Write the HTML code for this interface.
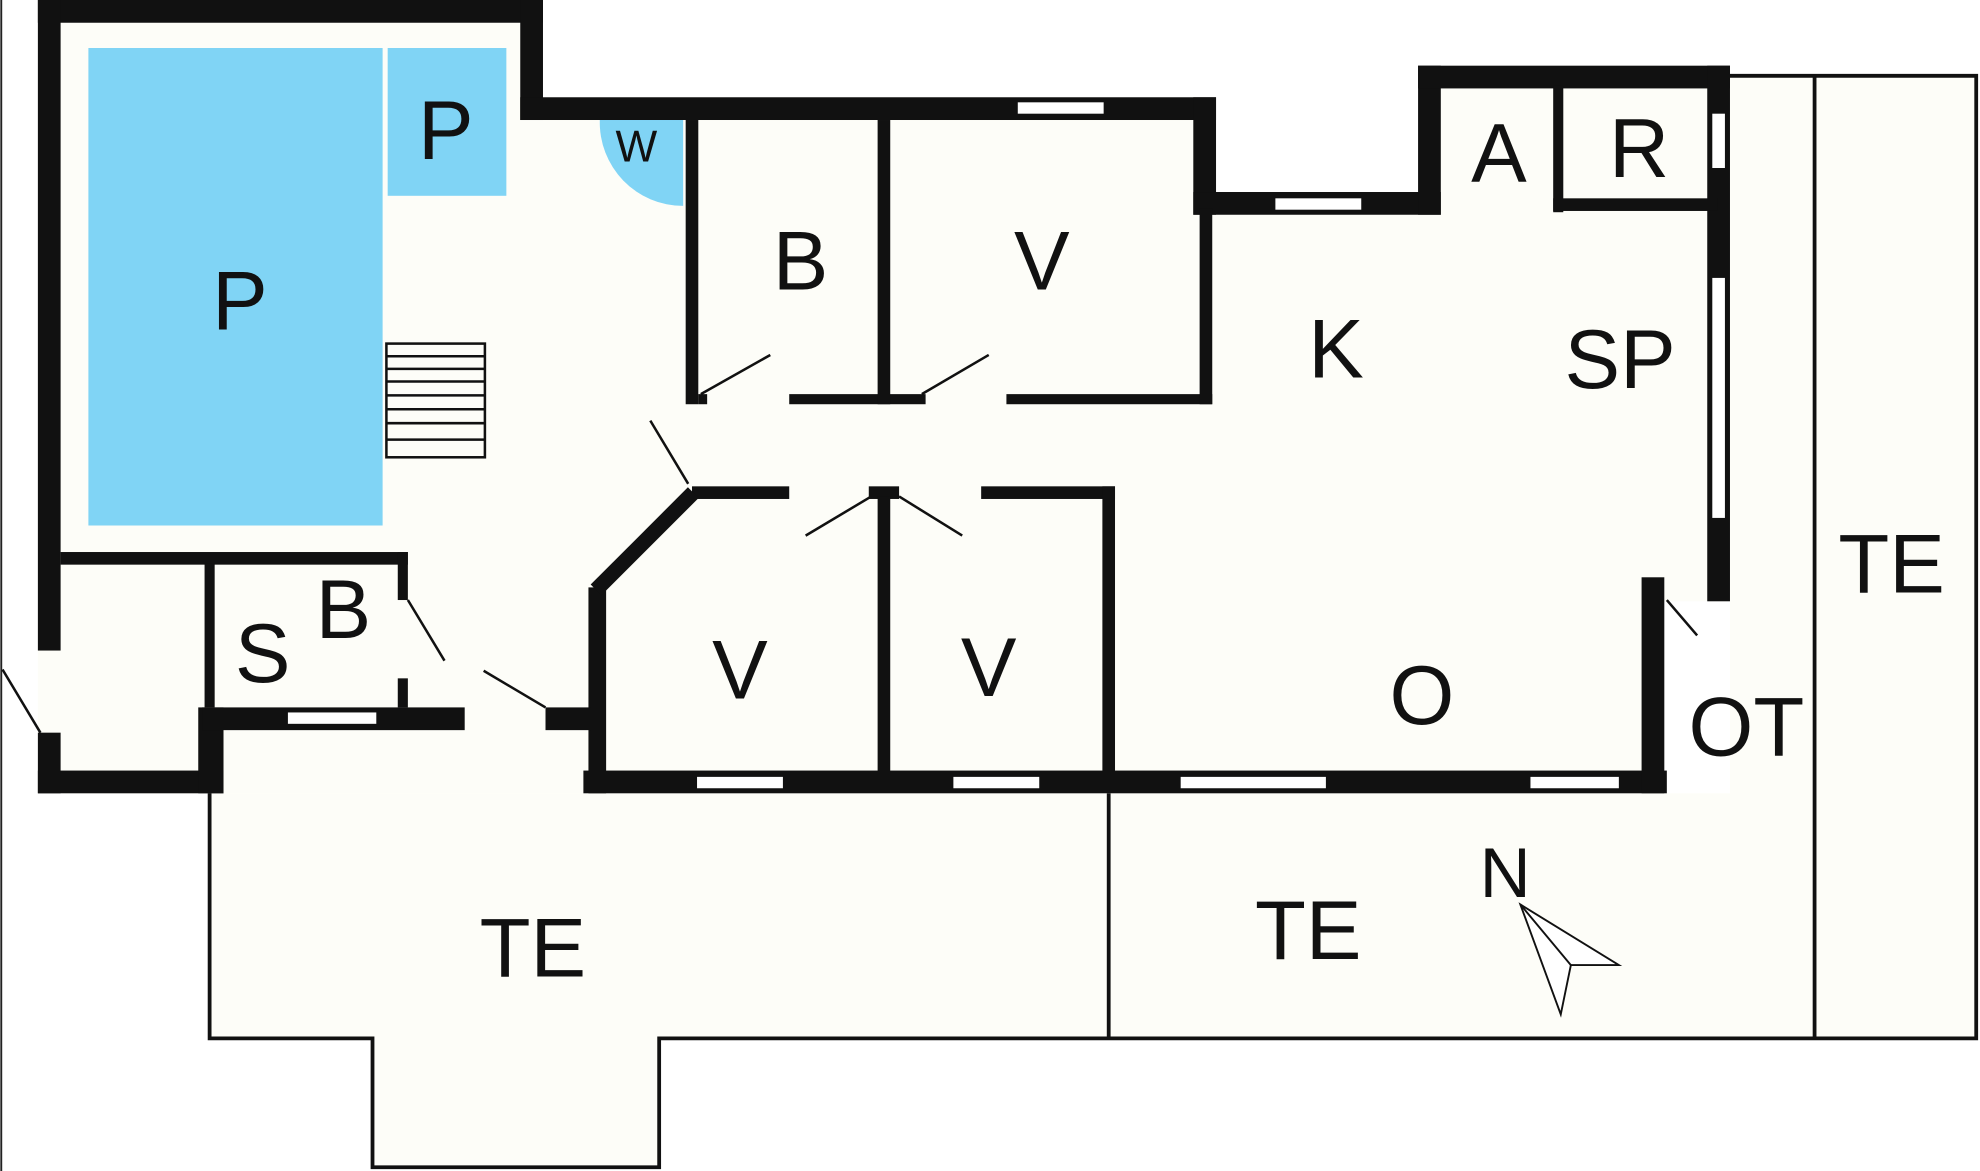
<!DOCTYPE html>
<html><head><meta charset="utf-8"><style>
html,body{margin:0;padding:0;background:#fff;}
svg{display:block;}
text{font-family:"Liberation Sans",sans-serif;fill:#111;text-anchor:middle;}
</style></head><body>
<svg width="1980" height="1171" viewBox="0 0 1568 927" preserveAspectRatio="none" xmlns="http://www.w3.org/2000/svg">
<rect width="1568" height="927" fill="#fff"/>
<line x1="1" y1="0" x2="1" y2="927" stroke="#222" stroke-width="1.5"/>
<!-- terraces -->
<polygon points="166,628 166,822 295,822 295,924 522,924 522,822 1565,822 1565,60 1370,60 1370,628" fill="#fdfdf8"/>
<polyline points="166,628 166,822 295,822 295,924 522,924 522,822 1565,822 1565,60 1370,60" fill="none" stroke="#111" stroke-width="3"/>
<line x1="878" y1="628" x2="878" y2="822" stroke="#111" stroke-width="3"/>
<line x1="1437" y1="60" x2="1437" y2="822" stroke="#111" stroke-width="3"/>
<!-- building fill -->
<polygon points="30,0 430,0 430,77 963,77 963,152 1123,152 1123,52 1370,52 1370,476 1318,476 1318,628 30,628" fill="#fdfdf8"/>
<!-- pool -->
<rect x="70" y="38" width="233" height="378" fill="#80d4f5"/>
<rect x="307" y="38" width="94" height="117" fill="#80d4f5"/>
<path d="M541,95 L475,95 A66,66 0 0 0 541,163 Z" fill="#80d4f5"/>
<!-- stairs -->
<g stroke="#111" stroke-width="2" fill="none">
<rect x="306" y="272" width="78" height="90"/>
<line x1="306" y1="282" x2="384" y2="282"/><line x1="306" y1="292" x2="384" y2="292"/>
<line x1="306" y1="302" x2="384" y2="302"/><line x1="306" y1="313" x2="384" y2="313"/>
<line x1="306" y1="324" x2="384" y2="324"/><line x1="306" y1="335" x2="384" y2="335"/>
<line x1="306" y1="348" x2="384" y2="348"/>
</g>
<!-- walls -->
<g fill="#111">
<rect x="30" y="0" width="400" height="18"/>
<rect x="412" y="0" width="18" height="95"/>
<rect x="412" y="77" width="551" height="18"/>
<rect x="945" y="77" width="18" height="93"/>
<rect x="945" y="152" width="196" height="18"/>
<rect x="1123" y="52" width="18" height="118"/>
<rect x="1123" y="52" width="247" height="18"/>
<rect x="1352" y="52" width="18" height="424"/>
<rect x="30" y="0" width="18" height="515"/>
<rect x="30" y="580" width="18" height="48"/>
<rect x="30" y="610" width="147" height="18"/>
<rect x="157" y="560" width="20" height="68"/>
<rect x="160" y="560" width="208" height="18"/>
<rect x="48" y="437" width="275" height="10"/>
<rect x="315" y="437" width="8" height="38"/>
<rect x="315" y="537" width="8" height="23"/>
<rect x="162" y="446" width="8" height="114"/>
<rect x="1230" y="68" width="8" height="100"/>
<rect x="1230" y="157" width="130" height="10"/>
<rect x="543" y="95" width="10" height="225"/>
<rect x="553" y="312" width="7" height="8"/>
<rect x="625" y="312" width="108" height="8"/>
<rect x="797" y="312" width="163" height="8"/>
<rect x="695" y="95" width="10" height="225"/>
<rect x="950" y="165" width="10" height="155"/>
<rect x="548" y="385" width="77" height="10"/>
<rect x="688" y="385" width="24" height="10"/>
<rect x="777" y="385" width="106" height="10"/>
<rect x="873" y="385" width="10" height="230"/>
<rect x="695" y="393" width="10" height="220"/>
<rect x="466" y="465" width="14" height="163"/>
<rect x="462" y="610" width="858" height="18"/>
<rect x="1300" y="457" width="18" height="171"/>
<rect x="432" y="560" width="36" height="18"/>
</g>
<line x1="549" y1="390" x2="472" y2="467" stroke="#111" stroke-width="12"/>
<!-- windows -->
<g fill="#fff">
<rect x="806" y="81" width="68" height="9"/>
<rect x="1010" y="157" width="68" height="9"/>
<rect x="1356" y="90" width="10" height="43"/>
<rect x="1356" y="220" width="10" height="190"/>
<rect x="228" y="564" width="70" height="9"/>
<rect x="552" y="615" width="68" height="9"/>
<rect x="755" y="615" width="68" height="9"/>
<rect x="935" y="615" width="115" height="9"/>
<rect x="1212" y="615" width="70" height="9"/>
</g>
<!-- door swings -->
<g stroke="#111" stroke-width="2">
<line x1="555" y1="312" x2="610" y2="281"/>
<line x1="730" y1="312" x2="783" y2="281"/>
<line x1="515" y1="333" x2="545" y2="383"/>
<line x1="638" y1="424" x2="690" y2="393"/>
<line x1="712" y1="393" x2="762" y2="424"/>
<line x1="323" y1="475" x2="352" y2="523"/>
<line x1="383" y1="531" x2="432" y2="560"/>
<line x1="2" y1="530" x2="32" y2="580"/>
<line x1="1320" y1="475" x2="1344" y2="503"/>
</g>
<!-- compass -->
<polygon points="1204,716 1282,764 1244,764 1236,803" fill="#fff" stroke="#111" stroke-width="1.5"/>
<line x1="1204" y1="716" x2="1244" y2="764" stroke="#111" stroke-width="1.5"/>
<!-- labels -->
<g font-size="66">
<text x="190" y="261">P</text>
<text x="353" y="126">P</text>
<text x="634" y="229">B</text>
<text x="825" y="229">V</text>
<text x="1187" y="144">A</text>
<text x="1298" y="140">R</text>
<text x="1058" y="299">K</text>
<text x="1283" y="307">SP</text>
<text x="1498" y="469">TE</text>
<text x="208" y="540">S</text>
<text x="272" y="505">B</text>
<text x="586" y="553">V</text>
<text x="783" y="551">V</text>
<text x="1126" y="573">O</text>
<text x="1383" y="598">OT</text>
<text x="1036" y="759">TE</text>
<text x="422" y="773">TE</text>
<text x="1192" y="710" font-size="56">N</text>
</g>
<text x="504" y="128" font-size="35">W</text>
</svg>
</body></html>
